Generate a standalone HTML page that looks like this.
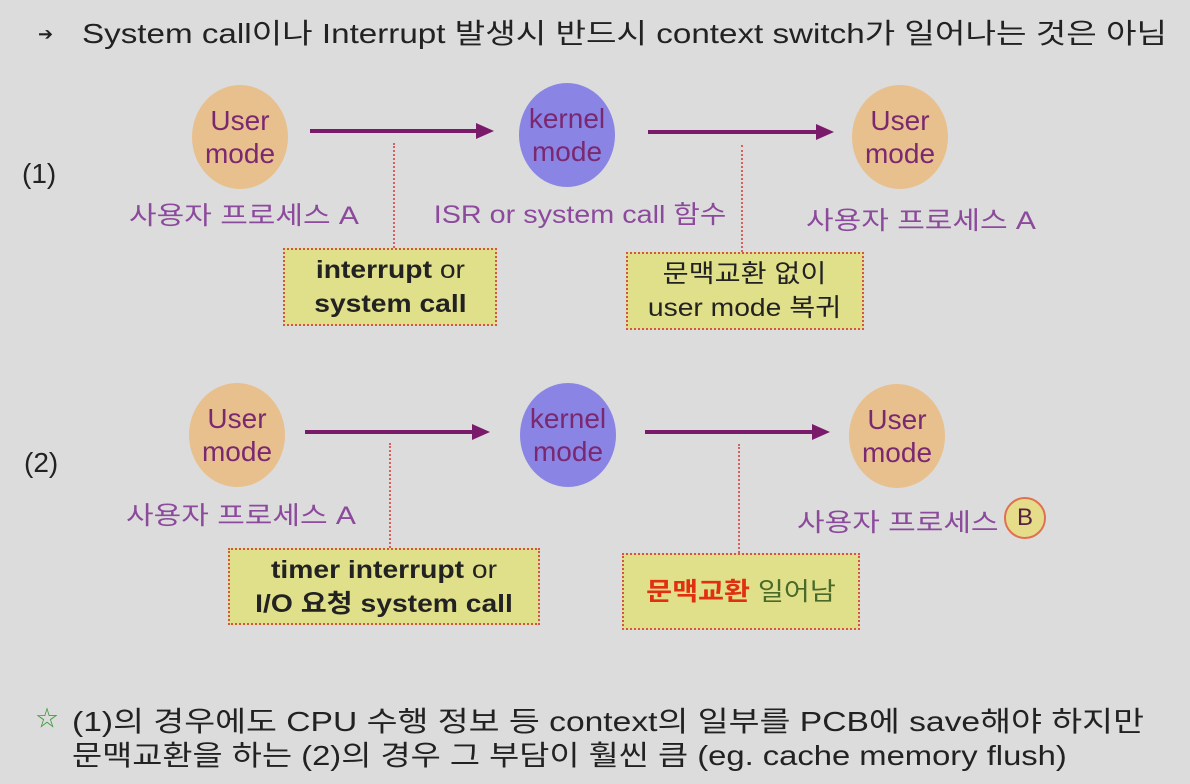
<!DOCTYPE html>
<html><head><meta charset="utf-8"><style>
body{margin:0;width:1190px;height:784px;background:#dcdcdc;position:relative;overflow:hidden;font-family:"Liberation Sans","Noto Sans CJK KR",sans-serif;}
.a{position:absolute;white-space:nowrap;}
.s{transform-origin:0 0;}
.c{position:absolute;border-radius:50%;display:flex;align-items:center;justify-content:center;text-align:center;font-size:28px;line-height:33px;color:#7a2870;}
.u{background:#e8c08e;}
.k{background:#8a84e4;}
.lbl{position:absolute;white-space:nowrap;text-align:center;font-size:25px;color:#8c4a9c;transform:translateX(-50%) scaleX(1.2);}
.box{position:absolute;background:#e0df8a;border:2px dotted #d85050;box-sizing:border-box;display:flex;align-items:center;justify-content:center;text-align:center;font-size:25px;line-height:34px;color:#222;}
.box>div{transform:scaleX(1.13);white-space:nowrap;}
.vl{position:absolute;width:0;border-left:2px dotted #d86060;}
</style></head><body>
<div class="a" style="left:38px;top:24px;font-size:18px;color:#222">&#x2794;</div>
<div class="a s" style="left:82px;top:12px;font-size:28px;color:#222;transform:scaleX(1.185)">System call이나 Interrupt 발생시 반드시 context switch가 일어나는 것은 아님</div>

<div class="a" style="left:22px;top:158px;font-size:28px;color:#222">(1)</div>
<div class="a" style="left:24px;top:447px;font-size:28px;color:#222">(2)</div>

<svg class="a" style="left:0;top:0" width="1190" height="784">
<g stroke="#7a1a6a" stroke-width="4">
<line x1="310" y1="131" x2="478" y2="131"/><path d="M476,123 L494,131 L476,139z" fill="#7a1a6a" stroke="none"/>
<line x1="648" y1="132" x2="818" y2="132"/><path d="M816,124 L834,132 L816,140z" fill="#7a1a6a" stroke="none"/>
<line x1="305" y1="432" x2="474" y2="432"/><path d="M472,424 L490,432 L472,440z" fill="#7a1a6a" stroke="none"/>
<line x1="645" y1="432" x2="814" y2="432"/><path d="M812,424 L830,432 L812,440z" fill="#7a1a6a" stroke="none"/>
</g>
</svg>

<div class="c u" style="left:192px;top:85px;width:96px;height:104px">User<br>mode</div>
<div class="c k" style="left:519px;top:83px;width:96px;height:104px">kernel<br>mode</div>
<div class="c u" style="left:852px;top:85px;width:96px;height:104px">User<br>mode</div>
<div class="c u" style="left:189px;top:383px;width:96px;height:104px">User<br>mode</div>
<div class="c k" style="left:520px;top:383px;width:96px;height:104px">kernel<br>mode</div>
<div class="c u" style="left:849px;top:384px;width:96px;height:104px">User<br>mode</div>

<div class="lbl" style="left:244px;top:196px">사용자 프로세스 A</div>
<div class="lbl" style="left:580px;top:195px;transform:translateX(-50%) scaleX(1.15)">ISR or system call 함수</div>
<div class="lbl" style="left:921px;top:201px">사용자 프로세스 A</div>
<div class="lbl" style="left:241px;top:496px">사용자 프로세스 A</div>
<div class="a s" style="left:797px;top:503px;font-size:25px;color:#8c4a9c;transform:scaleX(1.2)">사용자 프로세스</div>
<div class="a" style="left:1004px;top:497px;width:42px;height:42px;border-radius:50%;background:#e6dd8a;border:2px solid #e07050;box-sizing:border-box;text-align:center;line-height:38px;font-size:24px;color:#5a2040">B</div>

<div class="vl" style="left:393px;top:143px;height:105px"></div>
<div class="vl" style="left:741px;top:145px;height:107px"></div>
<div class="vl" style="left:389px;top:443px;height:105px"></div>
<div class="vl" style="left:738px;top:444px;height:109px"></div>

<div class="box" style="left:283px;top:248px;width:214px;height:78px"><div><b>interrupt</b> or<br><b>system call</b></div></div>
<div class="box" style="left:626px;top:252px;width:238px;height:78px"><div>문맥교환 없이<br>user mode 복귀</div></div>
<div class="box" style="left:228px;top:548px;width:312px;height:77px"><div><b>timer interrupt</b> or<br><b>I/O 요청 system call</b></div></div>
<div class="box" style="left:622px;top:553px;width:238px;height:77px;color:#4a6a2a"><div><b style="color:#e03010">문맥교환</b> 일어남</div></div>

<div class="a" style="left:36px;top:701px;font-size:22px;color:#3a9a3a">☆</div>
<div class="a s" style="left:72px;top:700px;font-size:28px;color:#222;transform:scaleX(1.2)">(1)의 경우에도 CPU 수행 정보 등 context의 일부를 PCB에 save해야 하지만</div>
<div class="a s" style="left:72px;top:734px;font-size:28px;color:#222;transform:scaleX(1.17)">문맥교환을 하는 (2)의 경우 그 부담이 훨씬 큼 (eg. cache memory flush)</div>
</body></html>
